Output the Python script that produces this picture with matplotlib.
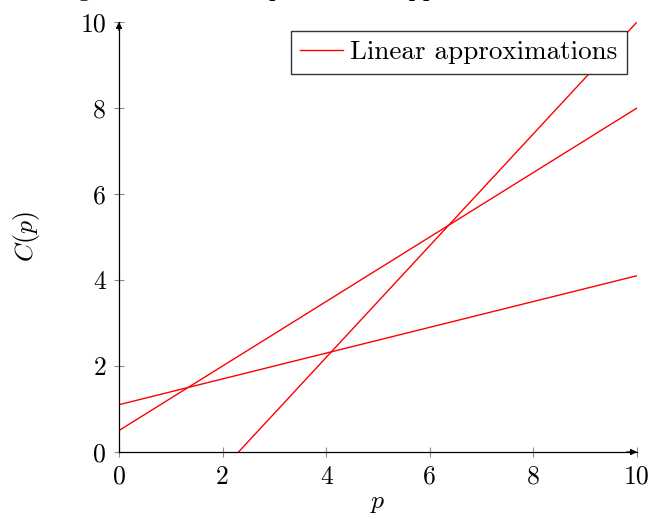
import matplotlib
matplotlib.use("Agg")
import matplotlib.pyplot as plt

# Data: each linear approximation given by its values at p = 0 and p = 10
p_ends = [0, 10]
line_a = [1.1, 4.1]
line_b = [0.5, 8.0]
line_c = [-3.0, 10.0]
lines = [line_a, line_b, line_c]
x_ticks = [0, 2, 4, 6, 8, 10]
y_ticks = [0, 2, 4, 6, 8, 10]
legend_label = "Linear approximations"
title_text = "Tangent lines at the points and approximations"

plt.rcParams['font.family'] = ['cmr10', 'DejaVu Serif']
plt.rcParams['mathtext.fontset'] = 'cm'
plt.rcParams['axes.formatter.use_mathtext'] = True

FS = 18.5

fig = plt.figure(figsize=(6.52, 5.19), dpi=100)
ax = fig.add_axes([119/652, 1-452/519, (637-119)/652, (452-22)/519])

for i, vals in enumerate(lines):
    ax.plot(p_ends, vals, color='red', lw=1.0,
            label=legend_label if i == 0 else None, clip_on=True)

ax.set_xlim(0, 10)
ax.set_ylim(0, 10)
ax.set_xticks(x_ticks)
ax.set_yticks(y_ticks)
ax.set_xticklabels([str(v) for v in x_ticks])
ax.set_yticklabels([str(v) for v in y_ticks])
ax.tick_params(direction='inout', length=7.5, width=0.8, color='0.55',
               labelsize=FS, pad=5.5)

for s in ['top', 'right']:
    ax.spines[s].set_visible(False)
for s in ['left', 'bottom']:
    ax.spines[s].set_color('black')
    ax.spines[s].set_linewidth(0.9)

# arrow tips at axis ends
ax.annotate('', xy=(1.0, 0), xytext=(0.98, 0), xycoords='axes fraction',
            arrowprops=dict(arrowstyle='-|>', color='black', lw=0.9,
                            mutation_scale=9, shrinkA=0, shrinkB=0))
ax.annotate('', xy=(0, 1.0), xytext=(0, 0.98), xycoords='axes fraction',
            arrowprops=dict(arrowstyle='-|>', color='black', lw=0.9,
                            mutation_scale=9, shrinkA=0, shrinkB=0))

ax.set_xlabel('$p$', fontsize=FS, labelpad=2)
ax.set_ylabel('$C(p)$', fontsize=FS, labelpad=28)

leg = ax.legend(loc='upper right', fontsize=19.5, frameon=True, fancybox=False,
                edgecolor='0.2', framealpha=1, handlelength=1.6,
                handletextpad=0.25, borderpad=0.35, borderaxespad=0,
                bbox_to_anchor=((627-119)/518, (452-31)/430))
leg.get_frame().set_linewidth(1.0)

fig.text(32/652, 1 + 4/519, title_text, ha='left', va='baseline', fontsize=FS)

fig.savefig('out.png', dpi=100)
